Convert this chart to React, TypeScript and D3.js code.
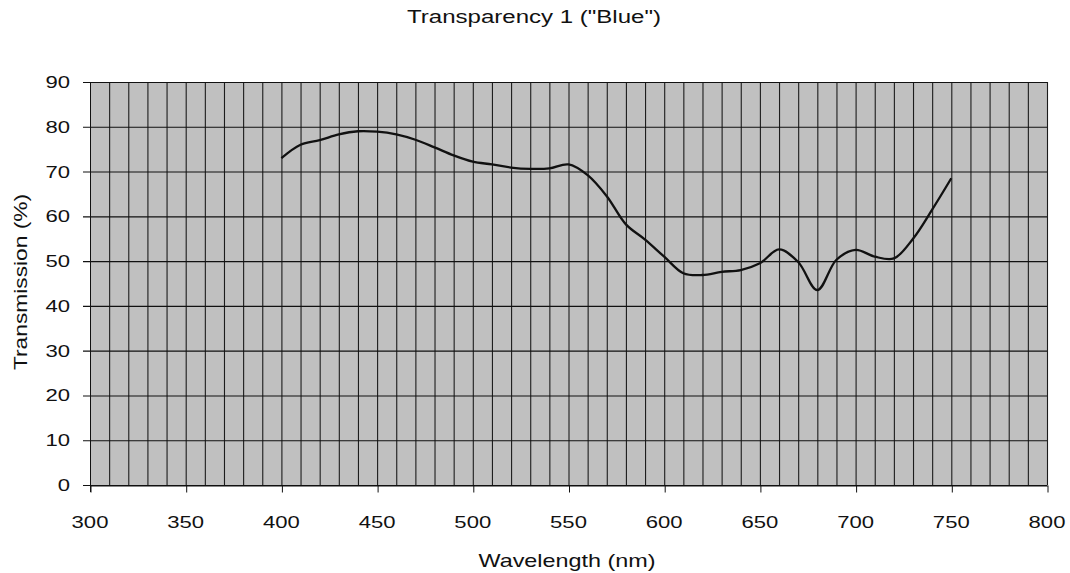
import React, { useEffect, useRef } from 'react';
import * as d3 from 'd3';

// wavelength (nm) and transmission (%)
const wavelengths = [400, 410, 420, 430, 440, 450, 460, 470, 480, 490, 500, 510, 520, 530, 540, 550, 560, 570, 580, 590, 600, 610, 620, 630, 640, 650, 660, 670, 680, 690, 700, 710, 720, 730, 740, 750];
const transmission = [73, 76, 77, 78.3, 79, 78.9, 78.3, 77.1, 75.4, 73.6, 72.2, 71.6, 70.9, 70.6, 70.7, 71.6, 69.2, 64.5, 58.2, 54.8, 51.0, 47.3, 46.9, 47.6, 48.0, 49.5, 52.6, 49.8, 43.5, 50.3, 52.5, 51.0, 50.6, 55, 61.5, 68.5];

const xTicks = [300, 350, 400, 450, 500, 550, 600, 650, 700, 750, 800];
const yTicks = [0, 10, 20, 30, 40, 50, 60, 70, 80, 90];

const title = 'Transparency 1 ("Blue")';
const xTitle = 'Wavelength (nm)';
const yTitle = 'Transmission (%)';

const App = () => {
    const ref = useRef(null);

    useEffect(() => {
        if (!ref.current) return;
        const width = 1070;
        const height = 573;
        const left = 90, right = 1047, top = 82, bottom = 485;
        const font = '"Liberation Sans", Arial, sans-serif';
        const stretch = 1.3;

        const svg = d3.select(ref.current);
        svg.selectAll('*').remove();
        svg.attr('width', width).attr('height', height);

        svg.append('rect').attr('width', width).attr('height', height).attr('fill', '#fff');

        const x = d3.scaleLinear().domain([300, 800]).range([left, right]);
        const y = d3.scaleLinear().domain([0, 90]).range([bottom, top]);

        // plot background
        svg.append('rect')
            .attr('x', left).attr('y', top)
            .attr('width', right - left).attr('height', bottom - top)
            .attr('fill', '#c0c0c0');

        // vertical grid every 10 nm
        svg.append('g')
            .selectAll('line')
            .data(d3.range(310, 801, 10))
            .enter()
            .append('line')
            .attr('x1', d => x(d) + 0.5).attr('x2', d => x(d) + 0.5)
            .attr('y1', top).attr('y2', bottom)
            .attr('stroke', '#1c1c1c')
            .attr('stroke-width', 1.1);

        // horizontal grid, extends into the tick area
        svg.append('g')
            .selectAll('line')
            .data(yTicks)
            .enter()
            .append('line')
            .attr('x1', left - 7).attr('x2', right)
            .attr('y1', d => y(d) + 0.5).attr('y2', d => y(d) + 0.5)
            .attr('stroke', '#111')
            .attr('stroke-width', 1.1);

        // left axis line
        svg.append('line')
            .attr('x1', left + 0.5).attr('x2', left + 0.5)
            .attr('y1', top).attr('y2', bottom + 7)
            .attr('stroke', '#111');

        // x axis ticks
        const xAxis = svg.append('g')
            .attr('transform', `translate(0.5, ${bottom + 0.5})`)
            .call(d3.axisBottom(x).tickValues(xTicks).tickSize(7).tickSizeOuter(0).tickFormat(d3.format('d')));
        xAxis.select('.domain').attr('stroke', '#111');
        xAxis.selectAll('.tick line').attr('stroke', '#111');
        xAxis.selectAll('.tick text')
            .attr('y', 0).attr('dy', 0)
            .attr('transform', `translate(-1, 42) scale(${stretch}, 1)`)
            .attr('fill', '#111')
            .style('font-family', font)
            .style('font-size', '17px');

        // y axis labels
        svg.append('g')
            .selectAll('text')
            .data(yTicks)
            .enter()
            .append('text')
            .attr('transform', d => `translate(70, ${y(d) + 6}) scale(${stretch}, 1)`)
            .attr('text-anchor', 'end')
            .attr('fill', '#111')
            .style('font-family', font)
            .style('font-size', '17px')
            .text(d => d);

        // curve
        const points = wavelengths.map((w, i) => [w, transmission[i]]);
        const line = d3.line()
            .x(d => x(d[0]))
            .y(d => y(d[1]))
            .curve(d3.curveCatmullRom.alpha(0.5));
        svg.append('path')
            .datum(points)
            .attr('d', line)
            .attr('fill', 'none')
            .attr('stroke', '#111')
            .attr('stroke-width', 2.3);

        // titles
        svg.append('text')
            .attr('transform', `translate(534, 23) scale(${stretch}, 1)`)
            .attr('text-anchor', 'middle')
            .attr('fill', '#111')
            .style('font-family', font)
            .style('font-size', '18.5px')
            .text(title);

        svg.append('text')
            .attr('transform', `translate(567, 567) scale(${stretch}, 1)`)
            .attr('text-anchor', 'middle')
            .attr('fill', '#111')
            .style('font-family', font)
            .style('font-size', '18px')
            .text(xTitle);

        svg.append('text')
            .attr('transform', `translate(27, 282) rotate(-90) scale(${stretch}, 1)`)
            .attr('text-anchor', 'middle')
            .attr('fill', '#111')
            .style('font-family', font)
            .style('font-size', '17.5px')
            .text(yTitle);
    }, []);

    return (
        <svg ref={ref} style={{ position: 'absolute', left: 0, top: 0 }} />
    );
};

export default App;
